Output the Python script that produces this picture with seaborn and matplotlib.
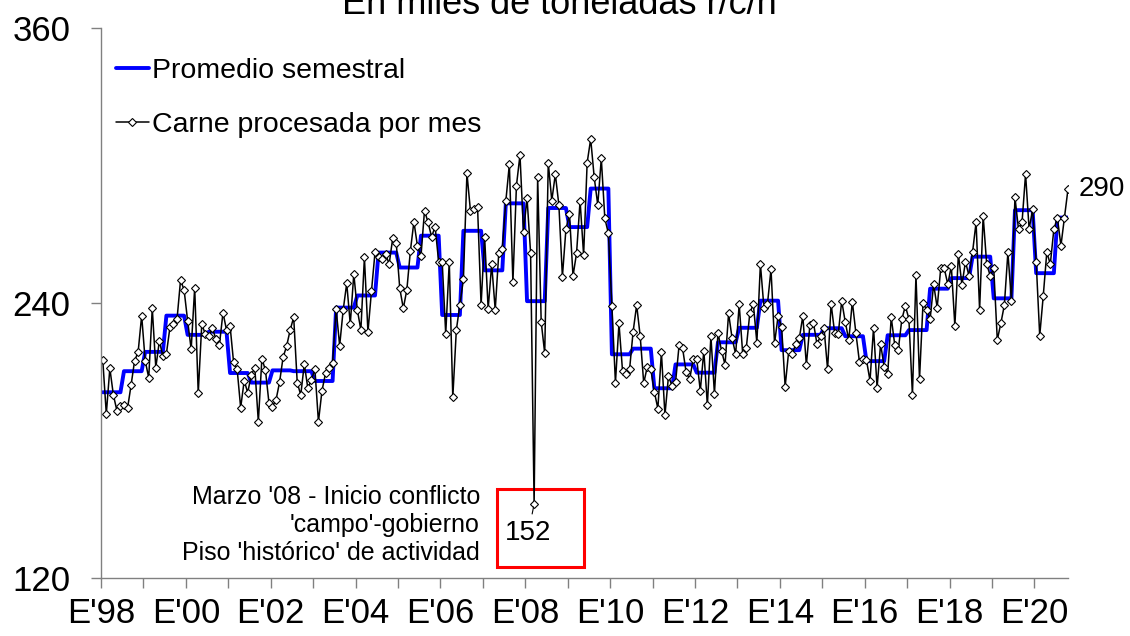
import numpy as np
import pandas as pd
import matplotlib
matplotlib.use("Agg")
import matplotlib.pyplot as plt
from matplotlib.patches import Rectangle
import seaborn as sns

# carne procesada por mes, miles de toneladas r/c/h (ene-98 a oct-20)
y1998 = [215.1, 191.6, 211.5, 199.9, 193.0, 195.2, 195.5, 194.0, 204.1, 214.8, 218.6, 234.5]
y1999 = [214.8, 207.4, 237.7, 211.8, 223.4, 216.9, 217.9, 229.4, 231.0, 232.9, 250.0, 245.7]
y2000 = [232.3, 219.8, 246.7, 200.6, 230.7, 226.5, 225.7, 229.0, 224.3, 221.8, 235.8, 228.2]
y2001 = [230.1, 214.1, 211.2, 194.3, 206.1, 200.9, 208.6, 211.8, 188.2, 215.7, 210.8, 196.5]
y2002 = [194.8, 197.7, 205.4, 216.3, 221.2, 228.2, 233.8, 205.2, 199.9, 213.4, 202.8, 206.4]
y2003 = [211.1, 188.2, 201.7, 209.3, 211.5, 214.0, 237.4, 221.4, 237.0, 248.6, 230.8, 252.7]
y2004 = [237.0, 228.2, 259.9, 227.3, 245.2, 262.1, 259.9, 259.2, 261.4, 257.0, 268.2, 266.3]
y2005 = [246.4, 237.7, 245.7, 262.7, 275.5, 264.9, 260.5, 280.3, 275.2, 268.9, 273.3, 258.0]
y2006 = [258.0, 226.5, 258.0, 198.8, 228.2, 239.1, 250.3, 296.6, 280.1, 280.9, 282.0, 239.1]
y2007 = [268.9, 237.4, 256.9, 237.0, 261.7, 263.6, 284.5, 300.5, 249.0, 291.2, 304.6, 271.1]
y2008 = [285.7, 262.0, 152.2, 295.1, 231.8, 218.0, 301.2, 284.7, 296.2, 282.8, 251.5, 272.3]
y2009 = [278.7, 251.8, 261.7, 284.5, 260.9, 301.2, 311.6, 294.8, 282.8, 303.1, 276.9, 270.4]
y2010 = [238.8, 205.2, 231.1, 210.5, 209.0, 211.1, 227.5, 239.1, 225.6, 205.0, 212.2, 211.1]
y2011 = [201.3, 193.9, 218.5, 191.1, 208.1, 203.9, 205.4, 221.5, 220.2, 209.7, 206.7, 215.7]
y2012 = [215.4, 201.7, 219.2, 195.3, 225.6, 200.4, 227.0, 219.2, 213.1, 235.5, 224.6, 217.7]
y2013 = [239.4, 217.7, 220.2, 235.5, 239.6, 222.7, 257.0, 238.0, 239.6, 254.8, 222.4, 234.3]
y2014 = [229.7, 203.5, 218.9, 217.7, 222.1, 224.6, 234.3, 212.9, 230.4, 231.4, 222.1, 225.6]
y2015 = [229.0, 211.1, 239.6, 227.0, 226.3, 240.9, 231.7, 223.9, 240.6, 227.0, 214.4, 215.4]
y2016 = [215.1, 206.1, 229.2, 203.1, 222.1, 212.2, 208.9, 233.8, 221.7, 219.5, 232.9, 238.7]
y2017 = [233.1, 199.9, 252.2, 206.7, 240.2, 237.0, 232.9, 248.2, 238.0, 255.1, 255.1, 248.2]
y2018 = [256.1, 230.0, 261.3, 247.9, 258.0, 251.9, 262.1, 275.2, 237.0, 278.1, 257.0, 251.9]
y2019 = [255.1, 223.9, 231.1, 239.1, 262.1, 240.9, 286.1, 272.2, 275.2, 296.3, 272.2, 281.0]
y2020 = [258.0, 225.7, 243.1, 262.1, 257.0, 272.2, 277.2, 265.0, 277.2, 289.7]

years = list(range(1998, 2021))
carne = (y1998 + y1999 + y2000 + y2001 + y2002 + y2003 + y2004 + y2005 + y2006
         + y2007 + y2008 + y2009 + y2010 + y2011 + y2012 + y2013 + y2014 + y2015
         + y2016 + y2017 + y2018 + y2019 + y2020)

nota = "Marzo '08 - Inicio conflicto\n'campo'-gobierno\nPiso 'histórico' de actividad"

df = pd.DataFrame({"mes": np.arange(len(carne)), "carne": carne})
df["semestre"] = df["mes"] // 6
df["promedio"] = df.groupby("semestre")["carne"].transform("mean")

sns.set_style("white")
plt.rcParams["font.family"] = ["Liberation Sans", "DejaVu Sans"]
plt.rcParams["text.color"] = "black"

fig = plt.figure(figsize=(11.3, 6.36), dpi=100)
ax = fig.add_axes([101 / 1130, 58 / 636, 967 / 1130, 550 / 636])

sns.lineplot(data=df, x="mes", y="promedio", color="#0000FF", linewidth=2.8,
             label="Promedio semestral", ax=ax)
sns.lineplot(data=df, x="mes", y="carne", color="black", linewidth=1.1,
             marker="D", markersize=3.6, markerfacecolor="white",
             markeredgecolor="black", markeredgewidth=0.8,
             label="Carne procesada por mes", ax=ax)

ax.set_xlim(-0.5, 273)
ax.set_ylim(120, 360)
ax.set_yticks([120, 240, 360])
ax.set_xticks([12 * i - 0.5 for i in range(len(years))])
ax.set_xticklabels(["E'{:02d}".format(y % 100) if (y - 1998) % 2 == 0 else "" for y in years])
ax.set_xlabel("")
ax.set_ylabel("")

for s in ["top", "right"]:
    ax.spines[s].set_visible(False)
for s in ["left", "bottom"]:
    ax.spines[s].set_color("#808080")
    ax.spines[s].set_linewidth(1)
ax.tick_params(axis="both", colors="#808080", labelcolor="black", labelsize=25,
               direction="out", length=7, width=1, bottom=True, left=True)
ax.tick_params(axis="y", pad=15)
ax.tick_params(axis="x", pad=7)

ax.legend(loc="upper left", bbox_to_anchor=(15 / 967, 0.945), frameon=False,
          fontsize=20.5, handlelength=1.15, handletextpad=0.12, labelspacing=0.99,
          borderaxespad=0, borderpad=0, labelcolor="black")

# minimo historico (marzo 2008)
imin = int(df["carne"].idxmin())
vmin = df["carne"].min()
ax.annotate("{:.0f}".format(vmin), xy=(imin, vmin), xytext=(-4.2, -20.7),
            textcoords="offset points", ha="center", va="center", fontsize=20,
            color="black",
            arrowprops=dict(arrowstyle="-", color="black", lw=0.8, shrinkA=2, shrinkB=2))
ax.annotate(nota, xy=(imin, vmin), xytext=(-39, -15), textcoords="offset points",
            ha="right", va="center", multialignment="right", fontsize=18,
            linespacing=1.22, color="black")
ax.add_patch(Rectangle((imin - 10.4, 124.8), 24.6, 34.0, fill=False,
                       edgecolor="#FF0000", linewidth=2.2, clip_on=False))

# ultimo dato
ax.annotate("{:.0f}".format(carne[-1]), xy=(len(carne) - 1, carne[-1]), xytext=(8, 0),
            textcoords="offset points", ha="left", va="center", fontsize=20,
            color="black")

fig.text(0.495, 1 - 14 / 636, "En miles de toneladas r/c/h", ha="center",
         va="baseline", fontsize=26, color="black")

fig.savefig("out.png", dpi=100)
